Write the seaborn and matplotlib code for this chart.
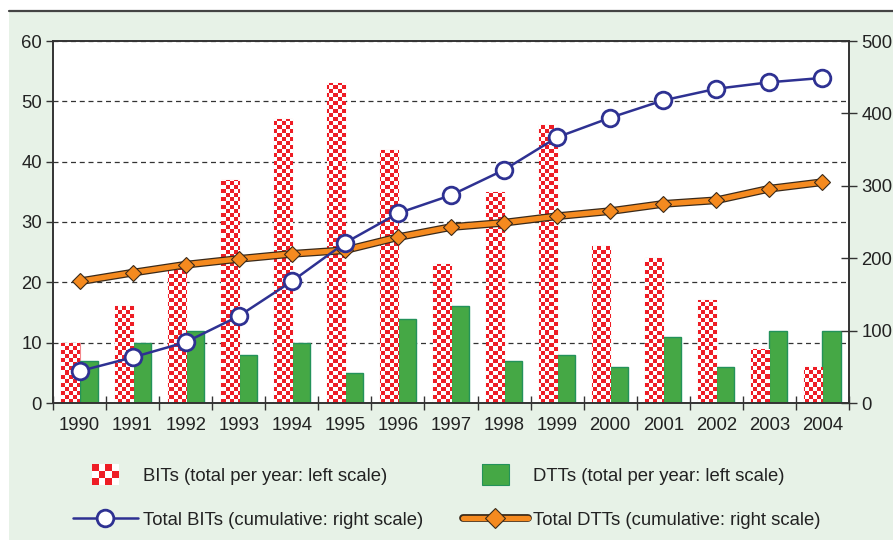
import numpy as np
import pandas as pd
import matplotlib
matplotlib.use('Agg')
import matplotlib.pyplot as plt
from matplotlib.patches import Rectangle
from matplotlib.lines import Line2D
from matplotlib.colors import ListedColormap
import seaborn as sns

# data
years = [str(y) for y in range(1990, 2005)]
bits_year = [10, 16, 23, 37, 47, 53, 42, 23, 35, 46, 26, 24, 17, 9, 6]
dtts_year = [7, 10, 12, 8, 10, 5, 14, 16, 7, 8, 6, 11, 6, 12, 12]
bits_total = [44, 63, 84, 120, 168, 221, 262, 287, 322, 367, 394, 418, 434, 443, 449]
dtts_total = [168, 180, 191, 199, 206, 211, 229, 243, 249, 258, 265, 275, 280, 296, 305]

lab_bits = 'BITs (total per year: left scale)'
lab_dtts = 'DTTs (total per year: left scale)'
lab_bits_cum = 'Total BITs (cumulative: right scale)'
lab_dtts_cum = 'Total DTTs (cumulative: right scale)'

RED = '#EE1D25'
GREEN = '#45A845'
GREEN_EDGE = '#23925A'
BLUE = '#2E3192'
ORANGE = '#F58A1F'
DARK = '#3A2A1A'
BG = '#E7F2E7'
INK = '#222222'

sns.set_theme(style='white')
plt.rcParams['font.family'] = ['Liberation Sans', 'DejaVu Sans']
plt.rcParams['font.size'] = 13.3

fig = plt.figure(figsize=(8.93, 5.4), dpi=100, facecolor='white')
fig.patches.append(Rectangle((9 / 893, 0), 1, 1 - 11 / 540, transform=fig.transFigure,
                             facecolor=BG, edgecolor='none', zorder=-10))
fig.add_artist(Line2D([9 / 893, 1], [1 - 11 / 540] * 2, color='#444444', lw=1.6))

ax = fig.add_axes([53 / 893, 1 - 403 / 540, (849 - 53) / 893, (403 - 41) / 540])
ax.set_facecolor('white')

df = pd.DataFrame({
    'year': years * 2,
    'kind': [lab_bits] * len(years) + [lab_dtts] * len(years),
    'count': bits_year + dtts_year,
})
sns.barplot(data=df, x='year', y='count', hue='kind', palette=[RED, GREEN],
            width=0.68, gap=0, saturation=1, legend=False, ax=ax)
ax.set_xlim(-0.5, 14.5)
ax.set_ylim(0, 60)

# checkered fill for the BIT bars (cells of about 4 px)
ny, nx = 90, 199
checker = np.add.outer(np.arange(ny), np.arange(nx)) % 2
for bar in ax.containers[0]:
    bar.set_edgecolor('#F4868B')
    bar.set_linewidth(0.8)
    im = ax.imshow(checker, extent=(-0.5, 14.5, 0, 60), origin='lower', aspect='auto',
                   interpolation='nearest', cmap=ListedColormap([RED, 'white']), zorder=1.5)
    im.set_clip_path(bar)
for bar in ax.containers[1]:
    bar.set_edgecolor(GREEN_EDGE)
    bar.set_linewidth(1)
ax.set_xlim(-0.5, 14.5)
ax.set_ylim(0, 60)

ax2 = ax.twinx()
sns.pointplot(x=years, y=dtts_total, ax=ax2, color=DARK, markers='None', linestyles='-',
              linewidth=5.6, errorbar=None)
sns.pointplot(x=years, y=dtts_total, ax=ax2, color=ORANGE, markers='D', linestyles='-',
              linewidth=3.8, markersize=8.5, markeredgecolor=DARK, markeredgewidth=0.8,
              errorbar=None)
sns.pointplot(x=years, y=bits_total, ax=ax2, color=BLUE, markers='o', linestyles='-',
              linewidth=1.8, markersize=12, markerfacecolor='white', markeredgewidth=2,
              errorbar=None)
ax2.set_ylim(0, 500)
ax2.set_xlim(-0.5, 14.5)

ax.set_yticks(range(0, 61, 10))
ax2.set_yticks(range(0, 501, 100))
ax.set_xticks(range(len(years)))
ax.set_xticklabels(years)
ax.set_xticks(np.arange(-0.5, 14.6, 1), minor=True)
ax.set_xlabel('')
ax.set_ylabel('')
ax2.set_xlabel('')
ax2.set_ylabel('')

ax.set_axisbelow(True)
ax.yaxis.grid(True, linestyle=(0, (4, 3)), color='#333333', lw=0.9)
ax.xaxis.grid(False)
ax2.grid(False)

for a in (ax, ax2):
    for s in a.spines.values():
        s.set_color('#333333')
        s.set_linewidth(1.2)

ax.tick_params(axis='x', which='major', bottom=True, length=0, pad=10,
               labelsize=13.3, labelcolor=INK)
ax.tick_params(axis='x', which='minor', bottom=True, direction='inout', length=10,
               width=1, color='#333333')
ax.tick_params(axis='y', left=True, direction='out', length=5, width=1, color='#333333',
               pad=3, labelsize=13.3, labelcolor=INK)
ax2.tick_params(axis='y', right=True, direction='inout', length=12, width=1,
                color='#333333', pad=3, labelsize=13.3, labelcolor=INK)


class BlockHandler:
    def __init__(self, colors, ncols, nrows, edge='none'):
        self.colors = colors
        self.ncols = ncols
        self.nrows = nrows
        self.edge = edge

    def legend_artist(self, legend, orig_handle, fontsize, handlebox):
        w, h = 19.5, 14.5
        x0 = handlebox.width / 2 - w / 2 - handlebox.xdescent
        y0 = handlebox.height / 2 - h / 2 - handlebox.ydescent
        cw, ch = w / self.ncols, h / self.nrows
        last = None
        for i in range(self.nrows):
            for j in range(self.ncols):
                c = self.colors[(i + j) % len(self.colors)]
                last = Rectangle((x0 + j * cw, y0 + i * ch), cw, ch, facecolor=c,
                                 edgecolor='none')
                handlebox.add_artist(last)
        if self.edge != 'none':
            handlebox.add_artist(Rectangle((x0, y0), w, h, facecolor='none',
                                           edgecolor=self.edge, lw=0.8))
        return last


bits_proxy = Rectangle((0, 0), 1, 1)
dtts_proxy = Rectangle((0, 0), 1, 1)
blue_handle = Line2D([], [], color=BLUE, lw=1.8, marker='o', ms=12, mfc='white', mew=2)
orange_handle = (Line2D([], [], color=DARK, lw=5.6),
                 Line2D([], [], color=ORANGE, lw=3.8, marker='D', ms=10, mec=DARK, mew=0.8))

fig.legend([bits_proxy, blue_handle, dtts_proxy, orange_handle],
           [lab_bits, lab_bits_cum, lab_dtts, lab_dtts_cum],
           handler_map={bits_proxy: BlockHandler([RED, 'white'], 4, 3),
                        dtts_proxy: BlockHandler([GREEN], 1, 1, edge=GREEN_EDGE)},
           ncol=2, loc='upper left', bbox_to_anchor=(73 / 893, 1 - 468 / 540),
           frameon=False, fontsize=13.3, handlelength=3.5, handletextpad=0.27,
           columnspacing=2.18, labelspacing=1.45, borderpad=0, borderaxespad=0,
           labelcolor=INK)

fig.savefig('out.png', dpi=100, facecolor=fig.get_facecolor())
